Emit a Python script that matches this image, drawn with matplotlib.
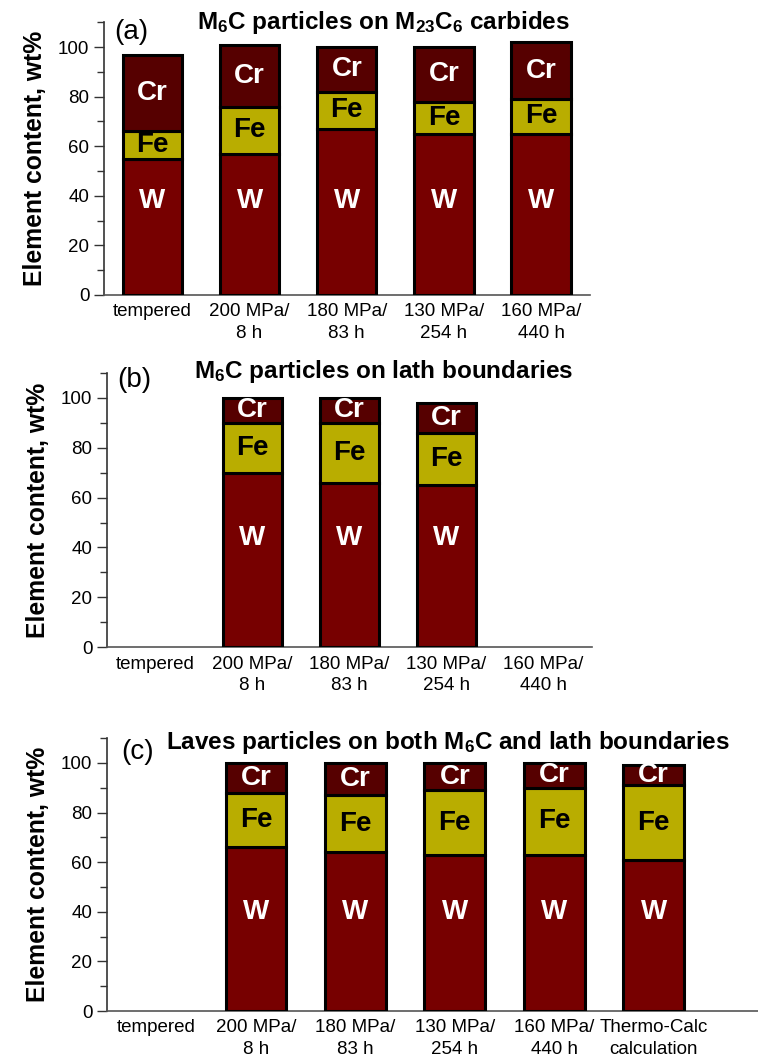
import numpy as np
import matplotlib
matplotlib.use('Agg')
import matplotlib.pyplot as plt
from matplotlib.ticker import MultipleLocator

plt.rcParams['font.family'] = ['Liberation Sans', 'DejaVu Sans']
plt.rcParams['mathtext.fontset'] = 'custom'
plt.rcParams['mathtext.rm'] = 'Liberation Sans:bold'
plt.rcParams['mathtext.bf'] = 'Liberation Sans:bold'
plt.rcParams['mathtext.default'] = 'bf'

# data (wt%)
cats_ab = ['tempered', '200 MPa/\n8 h', '180 MPa/\n83 h', '130 MPa/\n254 h', '160 MPa/\n440 h']
cats_c = cats_ab + ['Thermo-Calc\ncalculation']

W_a = [55, 57, 67, 65, 65]
Fe_a = [11, 19, 15, 13, 14]
Cr_a = [31, 25, 18, 22, 23]

W_b = [np.nan, 70, 66, 65, np.nan]
Fe_b = [np.nan, 20, 24, 21, np.nan]
Cr_b = [np.nan, 10, 10, 12, np.nan]

W_c = [np.nan, 66, 64, 63, 63, 61]
Fe_c = [np.nan, 22, 23, 26, 27, 30]
Cr_c = [np.nan, 12, 13, 11, 10, 8]

titles = [r'M$_6$C particles on M$_{23}$C$_6$ carbides',
          r'M$_6$C particles on lath boundaries',
          r'Laves particles on both M$_6$C and lath boundaries']
panel_tags = ['(a)', '(b)', '(c)']

c_W = '#770000'
c_Fe = '#b9ad00'
c_Cr = '#560000'

fig = plt.figure(figsize=(7.58, 10.61), dpi=100)
ax_a = fig.add_axes([0.137, 0.722, 0.641, 0.257])
ax_b = fig.add_axes([0.141, 0.390, 0.640, 0.2585])
ax_c = fig.add_axes([0.141, 0.047, 0.859, 0.2573])


def draw_panel(ax, cats, W, Fe, Cr, title, tag, xmax, w_label_y, title_x, title_y, tag_y):
    x = np.arange(len(cats))
    W = np.array(W, dtype=float)
    Fe = np.array(Fe, dtype=float)
    Cr = np.array(Cr, dtype=float)
    ok = ~np.isnan(W)
    bw = 0.61
    ax.bar(x[ok], W[ok], bw, color=c_W, edgecolor='black', linewidth=2.2, zorder=3)
    ax.bar(x[ok], Fe[ok], bw, bottom=W[ok], color=c_Fe, edgecolor='black', linewidth=2.2, zorder=3)
    ax.bar(x[ok], Cr[ok], bw, bottom=W[ok] + Fe[ok], color=c_Cr, edgecolor='black', linewidth=2.2, zorder=3)
    for i in x[ok]:
        ax.text(i, w_label_y, 'W', color='white', fontsize=20, fontweight='bold',
                ha='center', va='center', zorder=4)
        ax.text(i, W[i] + Fe[i] / 2, 'Fe', color='black', fontsize=20, fontweight='bold',
                ha='center', va='center', zorder=4)
        ax.text(i, W[i] + Fe[i] + Cr[i] / 2, 'Cr', color='white', fontsize=20, fontweight='bold',
                ha='center', va='center', zorder=4)

    ax.set_xlim(-0.5, xmax)
    ax.set_ylim(0, 110)
    ax.set_xticks(x)
    ax.set_xticklabels(cats, fontsize=13.5, linespacing=1.35)
    ax.tick_params(axis='x', length=0, pad=6)
    ax.yaxis.set_major_locator(MultipleLocator(20))
    ax.yaxis.set_minor_locator(MultipleLocator(10))
    ax.tick_params(axis='y', which='major', length=7, width=1, labelsize=13.5, color='#333333')
    ax.tick_params(axis='y', which='minor', length=5, width=1, color='#333333')
    for s in ['top', 'right']:
        ax.spines[s].set_visible(False)
    ax.spines['left'].set_color('#333333')
    ax.spines['bottom'].set_color('#555555')
    ax.spines['left'].set_linewidth(1.2)
    ax.spines['bottom'].set_linewidth(1.2)
    ax.set_ylabel('Element content, wt%', fontsize=17.8, fontweight='bold', labelpad=8)
    ax.text(title_x, title_y, title, transform=ax.transAxes, fontsize=17.5, fontweight='bold',
            ha='center', va='center')
    ax.text(0.022, tag_y, tag, transform=ax.transAxes, fontsize=20, ha='left', va='center')


draw_panel(ax_a, cats_ab, W_a, Fe_a, Cr_a, titles[0], panel_tags[0], 4.5, 38, 0.575, 1.0, 0.965)
draw_panel(ax_b, cats_ab, W_b, Fe_b, Cr_b, titles[1], panel_tags[1], 4.5, 44, 0.57, 1.005, 0.975)
draw_panel(ax_c, cats_c, W_c, Fe_c, Cr_c, titles[2], panel_tags[2], 6.05, 40, 0.524, 0.985, 0.948)

fig.savefig('out.png', dpi=100)
